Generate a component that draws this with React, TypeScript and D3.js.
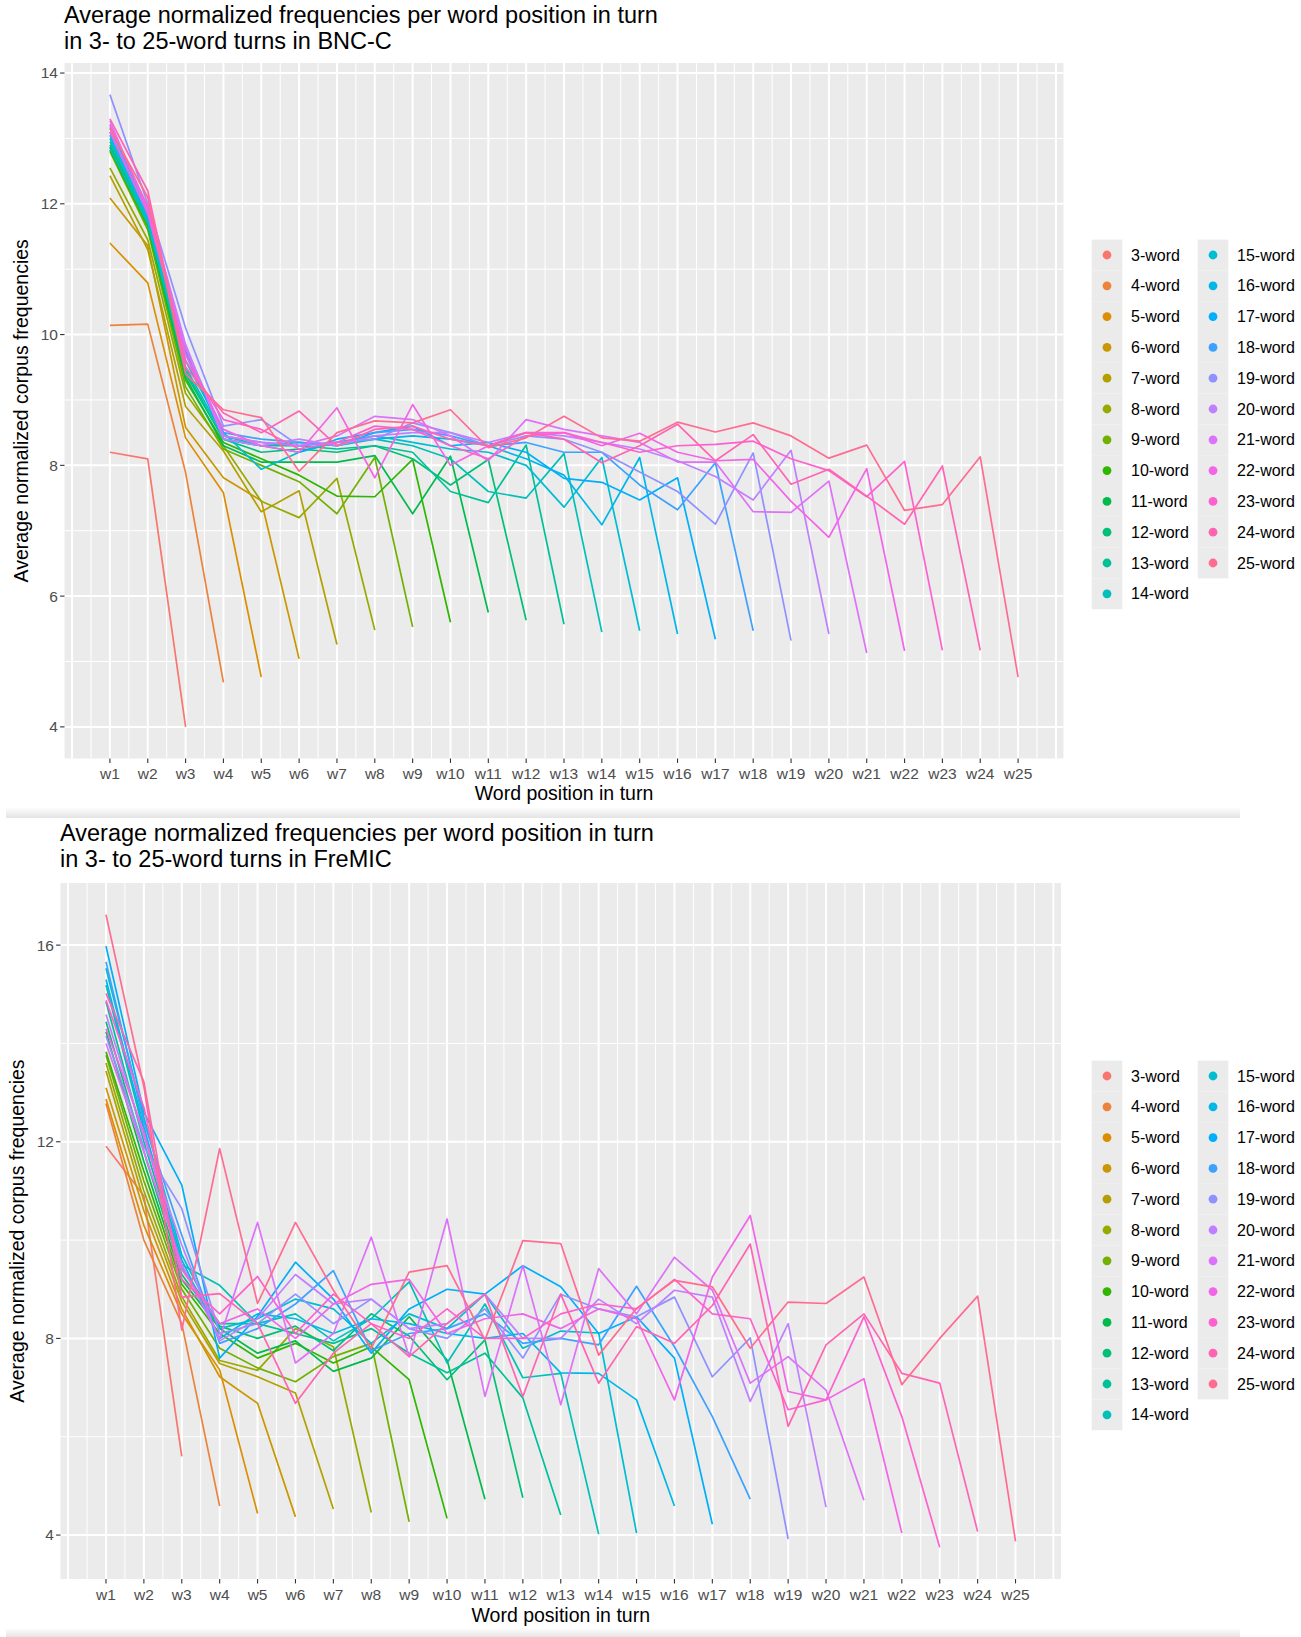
import React from "react";
import * as d3 from "d3";

// turn lengths (legend levels) and word positions (x axis)
const turnLengths = d3.range(3, 26);
const wordPositions = d3.range(1, 26).map((i) => `w${i}`);

// BNC-C: one array per turn length (3-word ... 25-word), one value per word position
const bncC: number[][] = [
  [8.2, 8.1, 4.0],
  [10.14, 10.16, 7.89, 4.68],
  [11.4, 10.79, 8.42, 7.58, 4.76],
  [12.09, 11.36, 8.58, 7.81, 7.46, 5.04],
  [12.43, 11.3, 8.9, 8.22, 7.29, 7.61, 5.26],
  [12.55, 11.45, 9.1, 8.3, 7.45, 7.2, 7.8, 5.48],
  [12.8, 11.6, 9.2, 8.25, 8.0, 7.75, 7.26, 8.12, 5.53],
  [12.82, 11.65, 9.3, 8.35, 8.1, 7.85, 7.53, 7.52, 8.09, 5.6],
  [12.87, 11.7, 9.35, 8.3, 8.05, 8.05, 8.05, 8.15, 7.26, 8.14, 5.75],
  [12.9, 11.75, 9.4, 8.4, 8.2, 8.25, 8.2, 8.3, 8.1, 7.7, 8.09, 5.63],
  [12.95, 11.8, 9.45, 8.4, 8.3, 8.3, 8.25, 8.3, 8.2, 7.6, 7.43, 8.31, 5.57],
  [12.85, 11.7, 9.5, 8.45, 8.3, 8.35, 8.3, 8.4, 8.3, 8.1, 7.6, 7.5, 8.18, 5.45],
  [13.0, 11.75, 9.6, 8.5, 7.94, 8.2, 8.35, 8.45, 8.35, 8.25, 8.2, 8.0, 7.36, 8.12, 5.47],
  [13.05, 11.8, 9.7, 8.45, 8.35, 8.3, 8.35, 8.4, 8.45, 8.4, 8.3, 8.1, 7.85, 7.09, 8.12, 5.42],
  [13.1, 11.85, 9.75, 8.4, 8.3, 8.2, 8.4, 8.5, 8.6, 8.3, 8.35, 8.2, 7.8, 7.74, 7.47, 7.81, 5.34],
  [13.17, 11.9, 9.8, 8.5, 8.4, 8.35, 8.3, 8.5, 8.55, 8.45, 8.3, 8.35, 8.2, 8.2, 7.7, 7.32, 8.04, 5.47],
  [13.67, 12.0, 10.1, 8.6, 8.7, 8.3, 8.35, 8.4, 8.65, 8.5, 8.3, 8.45, 8.4, 8.2, 7.9, 7.6, 7.1, 8.19, 5.32],
  [13.22, 11.95, 9.85, 8.4, 8.3, 8.4, 8.3, 8.45, 8.5, 8.5, 8.35, 8.5, 8.45, 8.35, 8.25, 8.07, 7.83, 7.47, 8.23, 5.42],
  [13.27, 11.9, 9.8, 8.45, 8.35, 8.3, 8.45, 8.75, 8.7, 8.45, 8.07, 8.7, 8.55, 8.45, 8.35, 8.05, 8.05, 7.29, 7.28, 7.76, 5.13],
  [13.1, 11.85, 9.7, 8.55, 8.3, 8.2, 8.88, 7.81, 8.93, 8.0, 8.3, 8.5, 8.5, 8.3, 8.49, 8.2, 8.07, 8.09, 7.45, 6.9, 7.95, 5.16],
  [13.2, 11.95, 9.6, 8.7, 8.55, 8.25, 8.35, 8.6, 8.55, 8.3, 8.1, 8.45, 8.5, 8.35, 8.2, 8.3, 8.32, 8.37, 8.1, 7.92, 7.52, 8.06, 5.17],
  [13.3, 12.2, 9.5, 8.8, 8.5, 8.83, 8.3, 8.55, 8.6, 8.4, 8.3, 8.5, 8.4, 8.04, 8.3, 8.63, 8.07, 8.47, 7.71, 7.94, 7.53, 7.1, 7.99, 5.17],
  [13.15, 12.1, 9.4, 8.85, 8.73, 7.91, 8.5, 8.68, 8.65, 8.85, 8.27, 8.42, 8.75, 8.42, 8.37, 8.66, 8.51, 8.65, 8.45, 8.11, 8.31, 7.31, 7.4, 8.13, 4.76],
];

// FreMIC
const freMIC: number[][] = [
  [11.91, 10.9, 5.6],
  [12.78, 10.0, 8.3, 4.59],
  [12.87, 10.3, 8.5, 7.36, 4.44],
  [13.1, 10.6, 8.6, 7.22, 6.68, 4.37],
  [13.44, 10.8, 8.75, 7.49, 7.22, 6.89, 4.53],
  [13.6, 11.0, 8.85, 7.55, 7.35, 8.2, 7.83, 4.46],
  [13.76, 11.2, 9.0, 7.8, 7.4, 7.12, 7.63, 7.9, 4.27],
  [13.83, 11.4, 9.1, 8.1, 7.6, 7.9, 7.5, 7.83, 7.16, 4.34],
  [14.24, 11.6, 9.2, 8.2, 7.7, 7.95, 7.33, 7.6, 8.44, 7.56, 4.73],
  [14.44, 11.8, 9.3, 8.25, 8.0, 8.25, 7.75, 8.5, 8.05, 7.16, 7.97, 4.76],
  [14.85, 12.0, 9.45, 8.3, 8.3, 8.1, 7.9, 8.2, 7.7, 7.3, 7.7, 6.79, 4.41],
  [15.19, 12.2, 9.5, 9.08, 8.3, 8.5, 7.95, 8.4, 9.15, 7.5, 8.7, 7.2, 7.29, 4.02],
  [15.53, 12.5, 9.7, 8.2, 8.4, 8.8, 8.6, 7.9, 8.5, 8.2, 8.9, 7.8, 8.15, 8.11, 4.04],
  [15.3, 12.3, 9.6, 8.0, 8.5, 8.4, 8.1, 8.4, 8.3, 8.1, 8.0, 8.1, 7.3, 7.29, 6.75, 4.59],
  [15.98, 12.6, 11.12, 7.6, 8.45, 9.55, 8.8, 7.7, 8.6, 9.0, 8.9, 9.48, 9.05, 8.1, 8.44, 7.6, 4.22],
  [15.66, 12.4, 10.1, 7.9, 8.2, 8.7, 9.38, 7.75, 8.1, 8.2, 8.5, 7.9, 8.0, 7.87, 9.06, 7.83, 6.41, 4.73],
  [14.15, 11.9, 10.64, 8.1, 8.3, 8.9, 8.3, 8.8, 8.2, 8.0, 8.6, 7.6, 8.9, 8.6, 8.44, 8.84, 7.22, 8.01, 3.92],
  [14.59, 12.1, 9.9, 7.95, 8.4, 9.3, 8.7, 8.8, 8.2, 8.3, 8.9, 8.0, 8.0, 8.8, 8.3, 8.98, 8.84, 6.72, 8.3, 4.57],
  [14.0, 11.8, 9.5, 8.0, 10.36, 7.5, 8.1, 10.06, 7.63, 10.43, 6.82, 9.48, 6.65, 9.42, 8.5, 9.65, 8.98, 7.09, 7.63, 6.95, 4.71],
  [14.3, 12.2, 9.4, 8.3, 8.6, 8.0, 8.7, 9.1, 9.2, 8.1, 8.4, 8.5, 8.2, 8.6, 8.4, 6.75, 9.25, 10.5, 6.92, 6.75, 7.18, 4.04],
  [14.88, 12.7, 9.2, 8.5, 9.26, 8.1, 8.9, 8.3, 8.0, 8.6, 8.0, 8.0, 8.5, 8.7, 8.6, 9.2, 8.5, 8.4, 6.55, 6.75, 8.44, 6.41, 3.75],
  [15.02, 13.22, 8.84, 8.91, 8.3, 6.68, 7.7, 8.3, 7.63, 8.3, 8.9, 6.82, 8.9, 7.09, 8.24, 7.9, 8.67, 9.92, 6.21, 7.87, 8.5, 7.29, 7.09, 4.07],
  [16.62, 13.12, 8.17, 11.86, 8.71, 10.36, 8.98, 7.8, 9.35, 9.48, 7.97, 9.99, 9.93, 7.66, 8.61, 9.18, 9.05, 7.8, 8.74, 8.71, 9.25, 7.06, 8.0, 8.86, 3.87],
];

const yTicksBnc = [4, 6, 8, 10, 12, 14];
const yTicksFremic = [4, 8, 12, 16];

// ggplot's default hue palette: hcl in polar LUV, c = 100, l = 65
function hueColour(h: number, c = 100, l = 65): string {
  const hr = (h * Math.PI) / 180;
  const u = c * Math.cos(hr);
  const v = c * Math.sin(hr);
  const Xn = 95.047, Yn = 100, Zn = 108.883;
  const Y = Yn * Math.pow((l + 16) / 116, 3);
  const den = Xn + 15 * Yn + 3 * Zn;
  const un = (4 * Xn) / den, vn = (9 * Yn) / den;
  const up = u / (13 * l) + un;
  const vp = v / (13 * l) + vn;
  const X = (Y * 9 * up) / (4 * vp);
  const Z = (Y * (12 - 3 * up - 20 * vp)) / (4 * vp);
  const x = X / 100, y = Y / 100, z = Z / 100;
  const lin = [
    3.240479 * x - 1.53715 * y - 0.498535 * z,
    -0.969256 * x + 1.875992 * y + 0.041556 * z,
    0.055648 * x - 0.204043 * y + 1.057311 * z,
  ];
  const [r, g, b] = lin.map((t) => {
    const s = t <= 0.0031308 ? 12.92 * t : 1.055 * Math.pow(t, 1 / 2.4) - 0.055;
    return Math.round(Math.max(0, Math.min(1, s)) * 255);
  });
  return d3.rgb(r, g, b).formatHex();
}

const hues = d3.range(24).map((i) => 15 + (i * 360) / 23).slice(0, 23);
const colours = hues.map((h) => hueColour(h));

const FONT = "'Liberation Sans', Arial, Helvetica, sans-serif";

interface PanelProps {
  series: number[][];
  yTicks: number[];
  title: [string, string];
  titleX: number;
  titleY: number;
  x0: number;
  x1: number;
  y0: number;
  y1: number;
  legendY: number;
  labelDy: number;
  axisTitleDy: number;
}

const Panel: React.FC<PanelProps> = ({
  series, yTicks, title, titleX, titleY, x0, x1, y0, y1, legendY, labelDy, axisTitleDy,
}) => {
  const x = d3.scaleLinear().domain([-0.2, 26.2]).range([x0, x1]);
  const [lo, hi] = d3.extent(series.flat()) as [number, number];
  const pad = (hi - lo) * 0.05;
  const y = d3.scaleLinear().domain([lo - pad, hi + pad]).range([y1, y0]);

  const yMinor = d3.range(yTicks.length - 1).map((i) => (yTicks[i] + yTicks[i + 1]) / 2);
  const xMajor = d3.range(0, 27);
  const xMinor = d3.range(0, 26).map((i) => i + 0.5);

  const line = d3
    .line<number>()
    .x((_, i) => x(i + 1))
    .y((d) => y(d));

  const rowH = 30.8;
  const legendCols = [
    { dotX: 1107, textX: 1131, items: d3.range(0, 12) },
    { dotX: 1213, textX: 1237, items: d3.range(12, 23) },
  ];

  return (
    <g>
      <text x={titleX} y={titleY} fontSize={23.5} fill="#000" fontFamily={FONT}>
        {title[0]}
      </text>
      <text x={titleX} y={titleY + 25.5} fontSize={23.5} fill="#000" fontFamily={FONT}>
        {title[1]}
      </text>

      <rect x={x0} y={y0} width={x1 - x0} height={y1 - y0} fill="#EBEBEB" />
      {yMinor.map((t) => (
        <line key={`ym${t}`} x1={x0} x2={x1} y1={y(t)} y2={y(t)} stroke="#fff" strokeWidth={1} />
      ))}
      {xMinor.map((t) => (
        <line key={`xm${t}`} x1={x(t)} x2={x(t)} y1={y0} y2={y1} stroke="#fff" strokeWidth={1} />
      ))}
      {yTicks.map((t) => (
        <line key={`yM${t}`} x1={x0} x2={x1} y1={y(t)} y2={y(t)} stroke="#fff" strokeWidth={2} />
      ))}
      {xMajor.map((t) => (
        <line key={`xM${t}`} x1={x(t)} x2={x(t)} y1={y0} y2={y1} stroke="#fff" strokeWidth={2} />
      ))}

      <g>
        {series.map((s, i) => (
          <path key={i} d={line(s) ?? ""} fill="none" stroke={colours[i]} strokeWidth={1.7} strokeLinejoin="round" />
        ))}
      </g>

      {yTicks.map((t) => (
        <g key={`yt${t}`}>
          <line x1={x0 - 4.4} x2={x0} y1={y(t)} y2={y(t)} stroke="#333" strokeWidth={1.1} />
          <text x={x0 - 6.6} y={y(t)} dy="0.35em" textAnchor="end" fontSize={15.5} fill="#4D4D4D" fontFamily={FONT}>
            {t}
          </text>
        </g>
      ))}
      {wordPositions.map((w, i) => (
        <g key={w}>
          <line x1={x(i + 1)} x2={x(i + 1)} y1={y1} y2={y1 + 4.4} stroke="#333" strokeWidth={1.1} />
          <text x={x(i + 1)} y={y1 + labelDy} textAnchor="middle" fontSize={15.5} fill="#4D4D4D" fontFamily={FONT}>
            {w}
          </text>
        </g>
      ))}

      <text x={(x0 + x1) / 2} y={y1 + axisTitleDy} textAnchor="middle" fontSize={19.5} fill="#000" fontFamily={FONT}>
        Word position in turn
      </text>
      <text
        transform={`translate(${x0 - 37},${(y0 + y1) / 2}) rotate(-90)`}
        textAnchor="middle"
        fontSize={19.5}
        fill="#000"
        fontFamily={FONT}
      >
        Average normalized corpus frequencies
      </text>

      {legendCols.map((col, ci) => (
        <g key={`lc${ci}`}>
          {col.items.map((k, r) => {
            const cy = legendY + r * rowH;
            return (
              <g key={k}>
                <rect x={col.dotX - 15.3} y={cy - rowH / 2} width={30.6} height={rowH} fill="#EBEBEB" />
                <circle cx={col.dotX} cy={cy} r={4.4} fill={colours[k]} />
                <text x={col.textX} y={cy} dy="0.35em" fontSize={16} fill="#000" fontFamily={FONT}>
                  {`${turnLengths[k]}-word`}
                </text>
              </g>
            );
          })}
        </g>
      ))}
    </g>
  );
};

export default function App() {
  return (
    <svg
      width={1301}
      height={1637}
      viewBox="0 0 1301 1637"
      style={{ position: "absolute", left: 0, top: 0, background: "#fff" }}
    >
      <defs>
        <linearGradient id="edge" x1="0" y1="0" x2="0" y2="1">
          <stop offset="0" stopColor="#ffffff" />
          <stop offset="1" stopColor="#e4e4e4" />
        </linearGradient>
      </defs>
      <rect width={1301} height={1637} fill="#fff" />
      <Panel
        series={bncC}
        yTicks={yTicksBnc}
        title={["Average normalized frequencies per word position in turn", "in 3- to 25-word turns in BNC-C"]}
        titleX={64}
        titleY={23}
        x0={64.5}
        x1={1063.5}
        y0={63}
        y1={758.5}
        legendY={255}
        labelDy={20}
        axisTitleDy={41}
      />
      <rect x={6} y={807} width={1234} height={11} fill="url(#edge)" />
      <Panel
        series={freMIC}
        yTicks={yTicksFremic}
        title={["Average normalized frequencies per word position in turn", "in 3- to 25-word turns in FreMIC"]}
        titleX={60}
        titleY={841}
        x0={60.5}
        x1={1061}
        y0={883}
        y1={1579}
        legendY={1076}
        labelDy={21}
        axisTitleDy={43}
      />
      <rect x={6} y={1628} width={1234} height={9} fill="url(#edge)" />
    </svg>
  );
}
